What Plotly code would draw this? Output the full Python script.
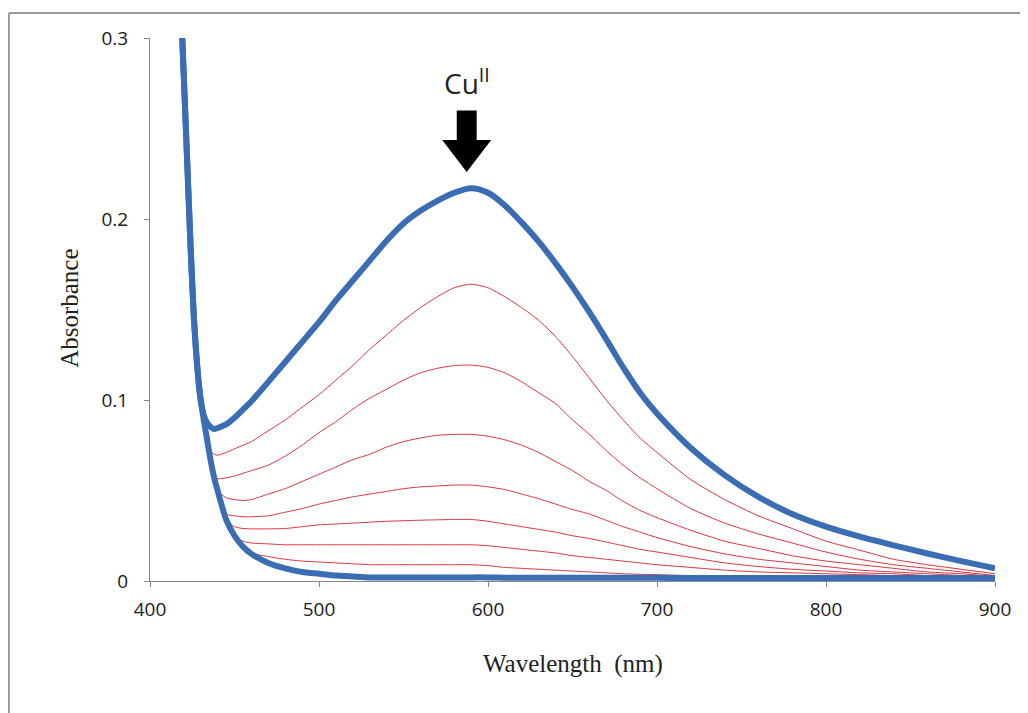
import plotly.graph_objects as go

# ---------------- data ----------------
wavelength = [419, 422, 424, 426, 428, 430, 432, 434, 436, 438, 440, 445, 450, 455, 460,
              470, 480, 490, 500, 510, 520, 530, 540, 550, 560, 570, 580, 590, 600,
              610, 620, 630, 640, 650, 660, 670, 680, 690, 700, 720, 740, 760, 780,
              800, 820, 840, 860, 880, 900]

abs_final = [0.302, 0.232, 0.185, 0.145, 0.118, 0.100, 0.091, 0.087, 0.085, 0.084, 0.0845, 0.0865, 0.0902, 0.0947, 0.0993,
             0.110, 0.121, 0.132, 0.143, 0.155, 0.166, 0.177, 0.188, 0.1975, 0.2045, 0.210, 0.2145, 0.217, 0.2145,
             0.2075, 0.198, 0.1875, 0.1755, 0.1625, 0.1485, 0.1335, 0.118, 0.104, 0.0925, 0.0735, 0.0585, 0.0465, 0.037,
             0.030, 0.0245, 0.0197, 0.0152, 0.011, 0.007]

abs_initial = [0.302, 0.232, 0.185, 0.145, 0.118, 0.100, 0.088, 0.077, 0.066, 0.057, 0.050, 0.034, 0.025, 0.019, 0.015,
               0.010, 0.007, 0.005, 0.004, 0.003, 0.0025, 0.002, 0.002, 0.002, 0.002, 0.002, 0.002, 0.002, 0.002,
               0.0018, 0.0018, 0.0018, 0.0018, 0.0018, 0.0018, 0.0018, 0.0018, 0.0018, 0.0018, 0.0016, 0.0016, 0.0016, 0.0016,
               0.0016, 0.0016, 0.0016, 0.0016, 0.0016, 0.0016]

abs_step1 = [0.302, 0.232, 0.185, 0.145, 0.118, 0.100, 0.088, 0.077, 0.072, 0.070, 0.0695, 0.071, 0.073, 0.075, 0.077,
             0.083, 0.089, 0.096, 0.103, 0.111, 0.119, 0.128, 0.136, 0.144, 0.151, 0.157, 0.162, 0.164, 0.162,
             0.157, 0.151, 0.144, 0.135, 0.124, 0.112, 0.100, 0.089, 0.079, 0.071, 0.056, 0.045, 0.036, 0.029,
             0.022, 0.017, 0.012, 0.009, 0.0065, 0.004]

abs_step2 = [0.302, 0.232, 0.185, 0.145, 0.118, 0.100, 0.088, 0.077, 0.066, 0.058, 0.0565, 0.057, 0.058, 0.0595, 0.061,
             0.064, 0.069, 0.075, 0.082, 0.088, 0.095, 0.101, 0.106, 0.111, 0.115, 0.1175, 0.119, 0.1193, 0.118,
             0.115, 0.110, 0.104, 0.098, 0.089, 0.081, 0.072, 0.064, 0.057, 0.051, 0.040, 0.032, 0.026, 0.021,
             0.016, 0.012, 0.009, 0.007, 0.005, 0.003]

abs_step3 = [0.302, 0.232, 0.185, 0.145, 0.118, 0.100, 0.088, 0.077, 0.066, 0.057, 0.050, 0.046, 0.045, 0.0445, 0.045,
             0.048, 0.051, 0.055, 0.059, 0.063, 0.067, 0.070, 0.074, 0.077, 0.079, 0.0805, 0.081, 0.081, 0.080,
             0.078, 0.075, 0.071, 0.066, 0.061, 0.055, 0.050, 0.044, 0.039, 0.035, 0.028, 0.022, 0.018, 0.014,
             0.011, 0.009, 0.007, 0.005, 0.004, 0.0025]

abs_step4 = [0.302, 0.232, 0.185, 0.145, 0.118, 0.100, 0.088, 0.077, 0.066, 0.057, 0.050, 0.037, 0.036, 0.0355, 0.0355,
             0.036, 0.038, 0.040, 0.0425, 0.0445, 0.0465, 0.048, 0.0495, 0.051, 0.052, 0.0525, 0.053, 0.053, 0.052,
             0.0505, 0.048, 0.0455, 0.0425, 0.0395, 0.037, 0.0335, 0.030, 0.027, 0.024, 0.019, 0.015, 0.012, 0.010,
             0.008, 0.006, 0.005, 0.004, 0.003, 0.002]

abs_step5 = [0.302, 0.232, 0.185, 0.145, 0.118, 0.100, 0.088, 0.077, 0.066, 0.057, 0.050, 0.034, 0.030, 0.029, 0.0288,
             0.0288, 0.029, 0.030, 0.031, 0.0315, 0.032, 0.0325, 0.033, 0.0333, 0.0336, 0.0338, 0.034, 0.034, 0.033,
             0.0315, 0.030, 0.0285, 0.027, 0.025, 0.0235, 0.0215, 0.0195, 0.0175, 0.016, 0.013, 0.010, 0.008, 0.0065,
             0.0055, 0.0045, 0.004, 0.003, 0.0025, 0.0015]

abs_step6 = [0.302, 0.232, 0.185, 0.145, 0.118, 0.100, 0.088, 0.077, 0.066, 0.057, 0.050, 0.034, 0.025, 0.022, 0.021,
             0.0205, 0.020, 0.020, 0.020, 0.020, 0.020, 0.020, 0.020, 0.020, 0.020, 0.020, 0.020, 0.020, 0.0195,
             0.0185, 0.0175, 0.0165, 0.0155, 0.014, 0.013, 0.012, 0.011, 0.010, 0.009, 0.0075, 0.006, 0.005, 0.0045,
             0.004, 0.0035, 0.003, 0.0025, 0.002, 0.001]

abs_step7 = [0.302, 0.232, 0.185, 0.145, 0.118, 0.100, 0.088, 0.077, 0.066, 0.057, 0.050, 0.034, 0.025, 0.019, 0.0155,
             0.0135, 0.012, 0.011, 0.0105, 0.010, 0.0095, 0.009, 0.009, 0.009, 0.009, 0.009, 0.009, 0.009, 0.0085,
             0.0075, 0.007, 0.0065, 0.006, 0.0055, 0.005, 0.0045, 0.004, 0.0037, 0.0035, 0.003, 0.0028, 0.0025, 0.0022,
             0.002, 0.0018, 0.0016, 0.0014, 0.0012, 0.001]

red_series = [abs_step1, abs_step2, abs_step3, abs_step4, abs_step5, abs_step6, abs_step7]

x_ticks = [400, 500, 600, 700, 800, 900]
y_ticks = [0, 0.1, 0.2, 0.3]
y_tick_labels = ["0", "0.1", "0.2", "0.3"]

# arrow / label placement (data units)
arrow_x = 587.4
arrow_shaft_half = 5.9
arrow_head_half = 14.5
arrow_top, arrow_neck, arrow_tip = 0.260, 0.2436, 0.226
label_y = 0.276

# ---------------- figure ----------------
BLUE = "#3b6db5"
RED = "#d8333f"
AXIS = "#868686"
FRAME = "#9a9a9a"

fig = go.Figure()
for ys in red_series:
    fig.add_trace(go.Scatter(x=wavelength, y=ys, mode="lines",
                             line=dict(color=RED, width=1, shape="spline", smoothing=0.6),
                             hoverinfo="skip", showlegend=False))
fig.add_trace(go.Scatter(x=wavelength, y=abs_initial, mode="lines",
                         line=dict(color=BLUE, width=6, shape="spline", smoothing=0.6),
                         showlegend=False))
fig.add_trace(go.Scatter(x=wavelength, y=abs_final, mode="lines",
                         line=dict(color=BLUE, width=6, shape="spline", smoothing=0.8),
                         showlegend=False))

arrow_path = (f"M {arrow_x-arrow_shaft_half},{arrow_top} L {arrow_x+arrow_shaft_half},{arrow_top} "
              f"L {arrow_x+arrow_shaft_half},{arrow_neck} L {arrow_x+arrow_head_half},{arrow_neck} "
              f"L {arrow_x},{arrow_tip} L {arrow_x-arrow_head_half},{arrow_neck} "
              f"L {arrow_x-arrow_shaft_half},{arrow_neck} Z")

fig.update_layout(
    width=1028, height=713,
    margin=dict(l=142, r=41, t=30, b=140),
    paper_bgcolor="white", plot_bgcolor="white",
    showlegend=False,
    xaxis=dict(range=[400, 900], tickvals=x_ticks, showline=True, linecolor=AXIS, linewidth=1,
               ticks="outside", ticklen=5, tickcolor=AXIS, showgrid=False, zeroline=False,
               tickfont=dict(family="Open Sans", size=19, color="#1a1a1a"), ticklabelstandoff=6),
    yaxis=dict(range=[0, 0.3], tickvals=y_ticks, ticktext=y_tick_labels, showline=True, linecolor=AXIS,
               linewidth=1, ticks="outside", ticklen=5, tickcolor=AXIS, showgrid=False, zeroline=False,
               tickfont=dict(family="Open Sans", size=19, color="#1a1a1a"), ticklabelstandoff=12),
    shapes=[
        dict(type="path", xref="x", yref="y", path=arrow_path, fillcolor="black",
             line=dict(color="black", width=0)),
        # outer frame: only its top and left edges fall inside the picture
        dict(type="line", xref="paper", yref="paper", x0=-0.167, x1=1.2, y0=1.046, y1=1.046,
             line=dict(color=FRAME, width=2), layer="below"),
        dict(type="line", xref="paper", yref="paper", x0=-0.167, x1=-0.167, y0=-0.4, y1=1.046,
             line=dict(color=FRAME, width=2), layer="below"),
    ],
    annotations=[
        dict(x=arrow_x, y=label_y, xref="x", yref="y", text="Cu<sup>II</sup>", showarrow=False,
             xanchor="center", yanchor="middle",
             font=dict(family="Open Sans", size=28, color="#222222")),
        dict(x=0.5, y=-0.153, xref="paper", yref="paper", text="Wavelength\u00a0 (nm)", showarrow=False,
             xanchor="center", yanchor="middle",
             font=dict(family="Liberation Serif", size=25, color="#222222")),
        dict(x=-0.0947, y=0.503, xref="paper", yref="paper", text="Absorbance", showarrow=False,
             textangle=-90, xanchor="center", yanchor="middle",
             font=dict(family="Liberation Serif", size=25, color="#222222")),
    ],
)

fig.write_html("out.html")
